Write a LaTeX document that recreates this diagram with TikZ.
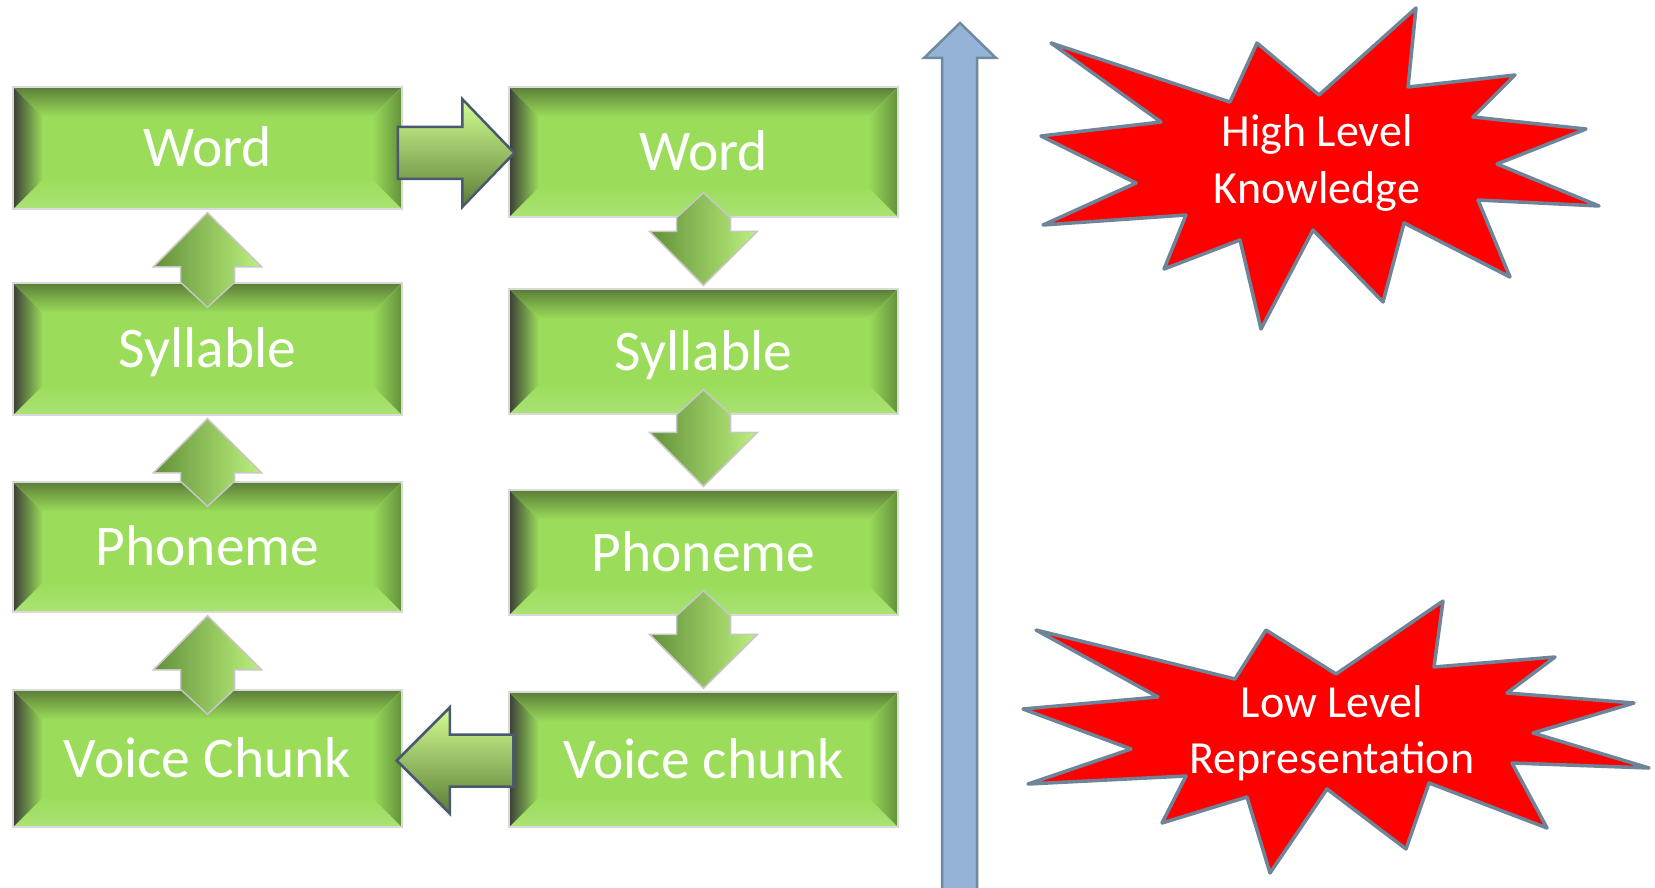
\documentclass[tikz,border=0pt]{standalone}
\usepackage{fontspec}
\setmainfont{Carlito}
\usetikzlibrary{calc}

\definecolor{facegreen}{HTML}{9BDD5B}
\definecolor{bevdark}{HTML}{5B7D37}
\definecolor{bevlight}{HTML}{D3FF93}
\definecolor{bevright}{HTML}{62903A}
\definecolor{edgegray}{HTML}{3A3F36}
\definecolor{slate}{HTML}{4A5A6E}
\definecolor{skyfill}{HTML}{95B3D7}
\definecolor{skyedge}{HTML}{6F8AA0}
\definecolor{burstedge}{HTML}{6E8599}

\tikzset{
  lvlbox/.style={minimum width=389, inner sep=0pt, fill=facegreen, draw=black!15,
    line width=1.5pt, text=white, font=\fontsize{57.5}{60}\selectfont,
    text height=37pt, text depth=0pt,
    path picture={
      \coordinate (nw) at (path picture bounding box.north west);
      \coordinate (ne) at (path picture bounding box.north east);
      \coordinate (sw) at (path picture bounding box.south west);
      \coordinate (se) at (path picture bounding box.south east);
      \fill[top color=bevdark, bottom color=facegreen] (nw) -- (ne)
        -- ([shift={(-\bevel,-\bevel)}]ne) -- ([shift={(\bevel,-\bevel)}]nw) -- cycle;
      \fill[top color=facegreen, middle color=bevlight, bottom color=facegreen!85!white] (sw) -- (se)
        -- ([shift={(-\bevel,\bevel)}]se) -- ([shift={(\bevel,\bevel)}]sw) -- cycle;
      \fill[left color=edgegray, middle color=bevright, right color=facegreen] (nw) -- (sw)
        -- ([shift={(\bevel,\bevel)}]sw) -- ([shift={(\bevel,-\bevel)}]nw) -- cycle;
      \fill[left color=facegreen, right color=bevright] (ne) -- (se)
        -- ([shift={(-\bevel,\bevel)}]se) -- ([shift={(-\bevel,-\bevel)}]ne) -- cycle;
    }},
  lift/.style={left color=bevright, middle color=facegreen, right color=bevlight!60!facegreen,
    draw=black!22, line width=1.5pt, line join=miter},
  push/.style={top color=bevlight, middle color=facegreen, bottom color=bevdark,
    draw=slate, line width=2.5pt},
  rise/.style={fill=skyfill, draw=skyedge, line width=2.5pt},
  burst/.style={fill=red, draw=burstedge, line width=3.5pt, line join=round},
  bursttext/.style={text=white, align=center, inner sep=0pt,
    font=\fontsize{46}{56}\selectfont}
}

\begin{document}
\begin{tikzpicture}[x=1pt, y=-1pt]
  \def \bevel {30pt}
  \useasboundingbox (0,0) rectangle (1655,888);

  % bottom-up column
  \foreach \t/\y/\h [count=\i] in {Word/148/122, Syllable/349/132, Phoneme/547/130, Voice Chunk/758.5/137}
    \node[lvlbox, minimum height=\h] (l\i) at (207.5,\y) {\t};

  % top-down column
  \foreach \t/\y/\h [count=\i] in {Word/152/130, Syllable/351.5/125, Phoneme/552.5/125, Voice chunk/759.5/135}
    \node[lvlbox, minimum height=\h] (r\i) at (703.5,\y) {\t};

  % upward arrows
  \foreach \a/\b in {l2/l1, l3/l2, l4/l3}
    \draw[lift] ($(\b.south)+(0,3)$) -- ++(54,54) -- ++(-27,0) -- ($(\a.north)+(27,0)$)
      -- ($(\a.north)+(0,25)$) -- ($(\a.north)+(-27,0)$) -- ($(\b.south)+(-27,57)$)
      -- ++(-27,0) -- cycle;

  % downward arrows
  \foreach \a/\b in {r1/r2, r2/r3, r3/r4}
    \draw[lift] ($(\b.north)+(0,-3)$) -- ++(54,-54) -- ++(-27,0) -- ($(\a.south)+(27,0)$)
      -- ($(\a.south)+(0,-25)$) -- ($(\a.south)+(-27,0)$) -- ($(\b.north)+(-27,-57)$)
      -- ++(-27,0) -- cycle;

  % word -> word
  \coordinate (rt) at ($(r1.west)+(6,1)$);
  \coordinate (rs) at ($(l1.east)+(-5,5)$);
  \draw[push] (rt) -- ++(-52,-54) -- ++(0,28) -- ($(rs)+(0,-26)$) -- ($(rs)+(0,26)$)
    -- ($(rt)+(-52,26)$) -- ++(0,28) -- cycle;

  % voice chunk -> voice chunk
  \coordinate (lt) at ($(l4.east)+(-6,2)$);
  \coordinate (ls) at ($(r4.west)+(5,1)$);
  \draw[push] (lt) -- ++(53,-53) -- ++(0,27) -- ($(ls)+(0,-26)$) -- ($(ls)+(0,26)$)
    -- ($(lt)+(53,26)$) -- ++(0,27) -- cycle;

  % level axis
  \draw[rise] (942,892) -- (942,58) -- (924,58) -- (960,23) -- (996,58) -- (977,58)
    -- (977,892) -- cycle;

  % starbursts
  \draw[burst] plot coordinates {(1416,8) (1408,87) (1515,75) (1473,117) (1586,129)
    (1497,164) (1599,206) (1478,200) (1510,277) (1404,223) (1383,302) (1313,230)
    (1261,329) (1240,240) (1164,269) (1186,215) (1043,225) (1136,183) (1041,136)
    (1161,122) (1051,43) (1230,102) (1257,43) (1319,95)} -- cycle;
  \node[bursttext, anchor=base] (high) at (1317,203) {High Level\\Knowledge};

  \draw[burst] plot coordinates {(1443,601) (1434,667) (1555,657) (1507,693) (1634,703)
    (1533,733) (1649,768) (1512,763) (1547,828) (1429,783) (1406,849) (1327,789)
    (1270,873) (1247,797) (1162,823) (1186,776) (1028,784) (1131,749) (1023,709)
    (1158,697) (1036,630) (1235,679) (1266,630) (1336,674)} -- cycle;
  \node[bursttext, anchor=base] (low) at (1332,773) {Low Level\\Representation};
\end{tikzpicture}
\end{document}
